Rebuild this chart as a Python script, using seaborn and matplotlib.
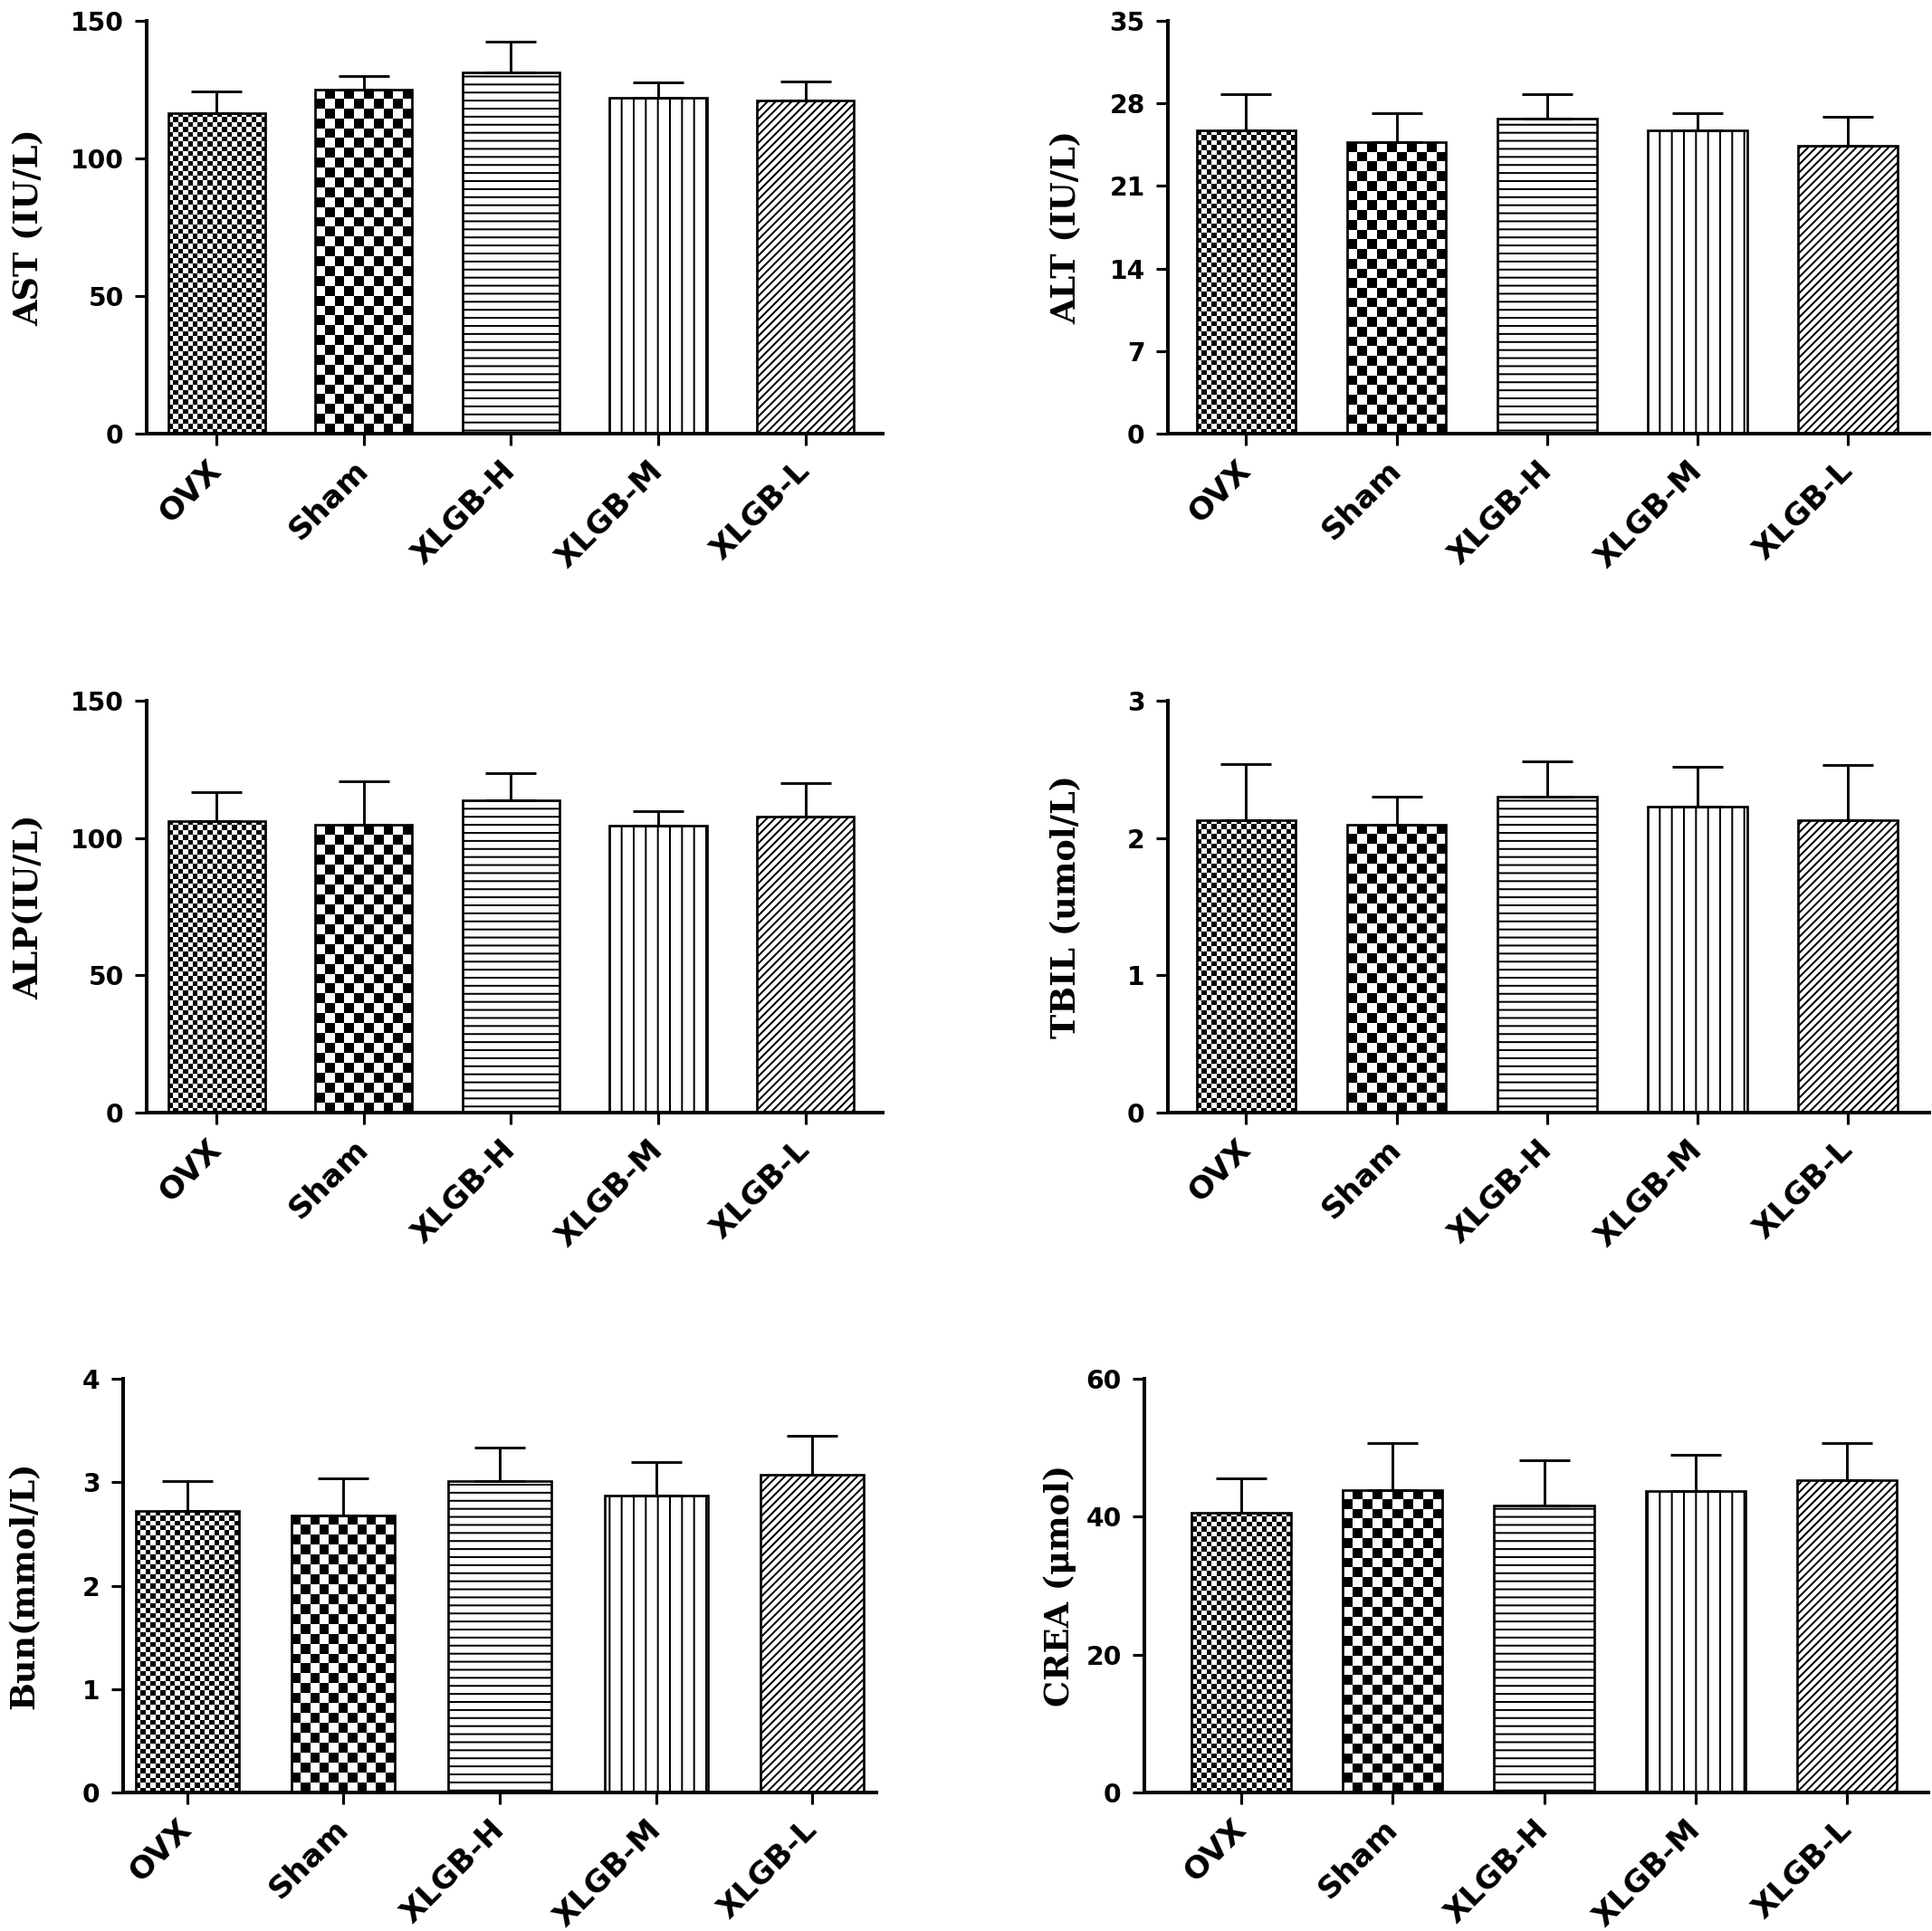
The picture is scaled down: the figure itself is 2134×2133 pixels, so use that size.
import numpy as np
import pandas as pd
import matplotlib
matplotlib.use("Agg")
import matplotlib.pyplot as plt
import seaborn as sns

groups = ['OVX', 'Sham', 'XLGB-H', 'XLGB-M', 'XLGB-L']

ast_mean = [116.6, 125.0, 131.1, 122.0, 121.2]
ast_sd = [7.6, 5.0, 11.4, 5.8, 6.8]
alt_mean = [25.7, 24.7, 26.7, 25.7, 24.4]
alt_sd = [3.1, 2.5, 2.1, 1.5, 2.5]
alp_mean = [106.3, 104.8, 113.9, 104.4, 107.8]
alp_sd = [10.3, 16.0, 9.9, 5.3, 12.3]
tbil_mean = [2.13, 2.10, 2.30, 2.23, 2.13]
tbil_sd = [0.41, 0.20, 0.26, 0.29, 0.40]
bun_mean = [2.72, 2.68, 3.01, 2.87, 3.07]
bun_sd = [0.29, 0.36, 0.33, 0.33, 0.38]
crea_mean = [40.6, 43.9, 41.7, 43.7, 45.3]
crea_sd = [5.0, 6.8, 6.5, 5.3, 5.4]

ylabels = ['AST (IU/L)', 'ALT (IU/L)', 'ALP(IU/L)', 'TBIL (umol/L)', 'Bun(mmol/L)', 'CREA (μmol)']
yticks = [[0, 50, 100, 150], [0, 7, 14, 21, 28, 35], [0, 50, 100, 150],
          [0, 1, 2, 3], [0, 1, 2, 3, 4], [0, 20, 40, 60]]

panels = [(ast_mean, ast_sd), (alt_mean, alt_sd), (alp_mean, alp_sd),
          (tbil_mean, tbil_sd), (bun_mean, bun_sd), (crea_mean, crea_sd)]

# layout (figure fractions), x-limits and ylabel offsets per panel
positions = [[0.0759, 0.7754, 0.381, 0.2138], [0.6045, 0.7754, 0.394, 0.2138],
             [0.0759, 0.4238, 0.381, 0.2133], [0.6045, 0.4238, 0.394, 0.2133],
             [0.0637, 0.0717, 0.390, 0.2142], [0.5923, 0.0717, 0.406, 0.2142]]
xlims = [(-0.475, 4.525), (-0.52, 4.54), (-0.475, 4.525), (-0.52, 4.54),
         (-0.41, 4.41), (-0.64, 4.54)]
label_x = [-0.159, -0.133, -0.159, -0.133, -0.130, -0.108]

# fill style per group: checker square size in px, or hatch
fills = [('checker', 5.4), ('checker', 10.8), ('hatch', '---'), ('hatch', '||'), ('hatch', '//////')]

DPI = 160
sns.set_style("ticks")
plt.rcParams['font.family'] = ['DejaVu Sans']
plt.rcParams['hatch.linewidth'] = 0.9
plt.rcParams['hatch.color'] = 'black'
plt.rcParams['text.color'] = 'black'
plt.rcParams['axes.labelcolor'] = 'black'
plt.rcParams['xtick.color'] = 'black'
plt.rcParams['ytick.color'] = 'black'

fig = plt.figure(figsize=(2134 / DPI, 2133 / DPI), dpi=DPI)


def checker_fill(ax, patch, sq):
    bb = patch.get_window_extent()
    nx = max(1, int(round(bb.width / sq)))
    ny = max(1, int(round(bb.height / sq)))
    arr = np.add.outer(np.arange(ny), np.arange(nx)) % 2
    x0 = patch.get_x()
    w = patch.get_width()
    h = patch.get_height()
    im = ax.imshow(arr, extent=[x0, x0 + w, 0, h], origin='lower', cmap='gray_r',
                   vmin=0, vmax=1, interpolation='nearest', aspect='auto',
                   zorder=patch.get_zorder() - 0.1)
    im.set_clip_path(patch)
    patch.set_facecolor('none')


for i, (means, sds) in enumerate(panels):
    ax = fig.add_axes(positions[i])
    df = pd.DataFrame({'group': groups, 'value': means, 'sd': sds})
    sns.barplot(data=df, x='group', y='value', color='white', edgecolor='black',
                linewidth=1.2, width=0.66, errorbar=None, ax=ax)
    ax.errorbar(np.arange(len(groups)), df['value'], yerr=[np.zeros(len(groups)), df['sd']],
                fmt='none', ecolor='black', elinewidth=1.3, capsize=12.6, capthick=1.3, zorder=3)

    ax.set_xlim(*xlims[i])
    ax.set_ylim(0, yticks[i][-1])
    ax.set_yticks(yticks[i])
    ax.set_yticklabels([str(t) for t in yticks[i]], fontweight='bold', fontsize=12.7)
    ax.set_xticks(range(len(groups)))
    ax.set_xticklabels(groups, rotation=45, ha='right', va='center',
                       rotation_mode='anchor', fontweight='bold', fontsize=15.5)
    ax.set_xlabel('')
    ax.set_ylabel(ylabels[i], family='DejaVu Serif', fontweight='bold', fontsize=16.5, va='center')
    ax.yaxis.set_label_coords(label_x[i], 0.5)

    for s in ['top', 'right']:
        ax.spines[s].set_visible(False)
    for s in ['left', 'bottom']:
        ax.spines[s].set_linewidth(1.8)
        ax.spines[s].set_color('black')
    ax.tick_params(axis='both', direction='out', length=6, width=1.4, color='black', labelcolor='black')
    ax.tick_params(axis='y', pad=5.4)
    ax.tick_params(axis='x', pad=10)

    for patch, (kind, val) in zip(ax.patches, fills):
        if kind == 'hatch':
            patch.set_hatch(val)
        else:
            checker_fill(ax, patch, val)

    ax.set_xlim(*xlims[i])
    ax.set_ylim(0, yticks[i][-1])

fig.savefig('out.png', dpi=DPI, facecolor='white')
